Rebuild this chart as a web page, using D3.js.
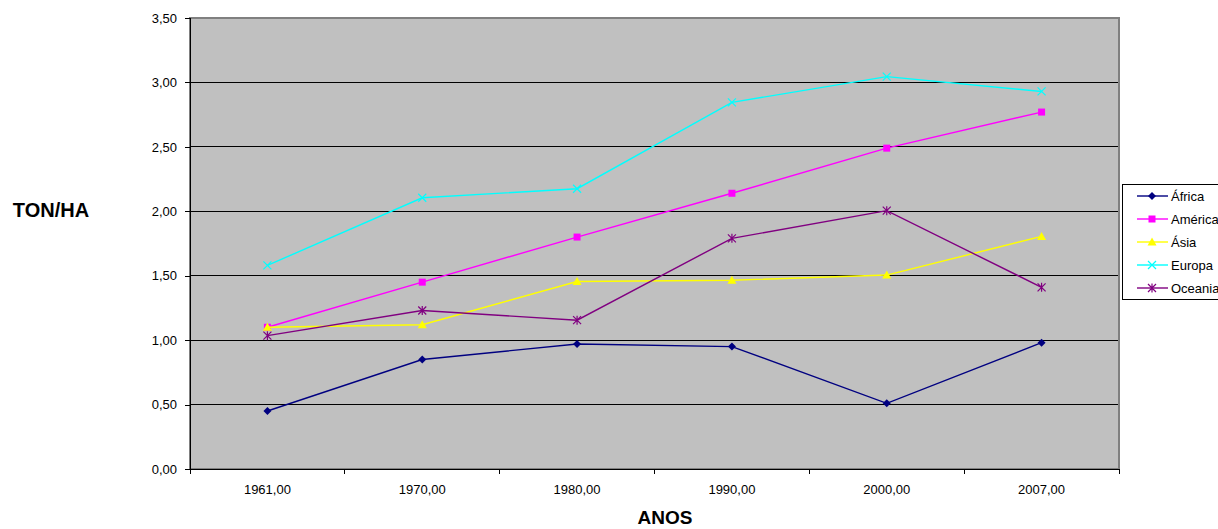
<!DOCTYPE html>
<html><head><meta charset="utf-8">
<script src="https://cdn.jsdelivr.net/npm/d3@7"></script>
<style>body{margin:0;background:#fff}svg{display:block}text{font-family:"Liberation Sans",Arial,sans-serif}</style>
</head><body><svg id="c" width="1218" height="529"></svg>
<script>
const categories = ["1961,00","1970,00","1980,00","1990,00","2000,00","2007,00"];
const africa  = [0.45, 0.85, 0.97, 0.95, 0.51, 0.98];
const america = [1.10, 1.45, 1.80, 2.14, 2.49, 2.77];
const asia    = [1.10, 1.12, 1.455, 1.465, 1.505, 1.805];
const europa  = [1.58, 2.105, 2.175, 2.845, 3.045, 2.93];
const oceania = [1.035, 1.23, 1.155, 1.79, 2.005, 1.41];
const seriesNames = ["África","América","Ásia","Europa","Oceania"];
const yTicks = [0,0.5,1,1.5,2,2.5,3,3.5];
const yTickLabels = ["0,00","0,50","1,00","1,50","2,00","2,50","3,00","3,50"];

const seriesData = [africa, america, asia, europa, oceania];
const colors = ["#000080","#FF00FF","#FFFF00","#00FFFF","#800080"];
const markers = ["diamond","square","triangle","x","star"];

const svg = d3.select("#c");
const L=190, R=1119, T=18, B=469;
const x = d3.scaleBand().domain(categories).range([L,R]);
const y = d3.scaleLinear().domain([0,3.5]).range([B,T]);

svg.append("rect").attr("x",L).attr("y",T).attr("width",R-L).attr("height",B-T).attr("fill","#C0C0C0");
svg.append("g").selectAll("line").data(yTicks.slice(1)).join("line")
  .attr("x1",L).attr("x2",R).attr("y1",d=>y(d)).attr("y2",d=>y(d))
  .attr("stroke","#000").attr("stroke-width",1).attr("shape-rendering","crispEdges");
svg.append("rect").attr("x",L).attr("y",T).attr("width",R-L).attr("height",B-T)
  .attr("fill","none").attr("stroke","#808080").attr("stroke-width",1.5).attr("shape-rendering","crispEdges");

const yAxis = d3.axisLeft(y).tickValues(yTicks).tickSize(5).tickPadding(8)
  .tickFormat((d,i)=>yTickLabels[i]);
const gy = svg.append("g").attr("transform",`translate(${L},0)`).call(yAxis);
gy.select(".domain").attr("stroke","#000").attr("shape-rendering","crispEdges");
gy.selectAll(".tick line").attr("stroke","#000").attr("shape-rendering","crispEdges");
gy.selectAll("text").attr("font-size","13px").attr("fill","#000").style("font-family","'Liberation Sans',Arial,sans-serif");

const gx = svg.append("g").attr("transform",`translate(0,${B})`);
gx.append("line").attr("x1",L).attr("x2",R).attr("y1",0).attr("y2",0).attr("stroke","#000").attr("shape-rendering","crispEdges");
const bounds = categories.map(c=>x(c)).concat([x(categories[categories.length-1])+x.bandwidth()]);
gx.selectAll("line.t").data(bounds).join("line").attr("class","t")
  .attr("x1",d=>d).attr("x2",d=>d).attr("y1",0).attr("y2",5).attr("stroke","#000").attr("shape-rendering","crispEdges");
gx.selectAll("text").data(categories).join("text")
  .attr("x",d=>x(d)+x.bandwidth()/2).attr("y",25).attr("text-anchor","middle")
  .attr("font-size","13px").text(d=>d);

svg.append("text").attr("x",51).attr("y",217).attr("text-anchor","middle")
  .attr("font-size","20px").attr("font-weight","bold").text("TON/HA");
svg.append("text").attr("x",665).attr("y",524).attr("text-anchor","middle")
  .attr("font-size","19px").attr("font-weight","bold").text("ANOS");

function drawMarker(g, type, cx, cy, color){
  if(type==="diamond"){
    g.append("path").attr("d",`M${cx},${cy-4}L${cx+4},${cy}L${cx},${cy+4}L${cx-4},${cy}Z`).attr("fill",color);
  } else if(type==="square"){
    g.append("rect").attr("x",cx-3.5).attr("y",cy-3.5).attr("width",7).attr("height",7).attr("fill",color);
  } else if(type==="triangle"){
    g.append("path").attr("d",`M${cx},${cy-4.5}L${cx+4.5},${cy+3.5}L${cx-4.5},${cy+3.5}Z`).attr("fill",color);
  } else if(type==="x"){
    g.append("path").attr("d",`M${cx-4},${cy-4}L${cx+4},${cy+4}M${cx+4},${cy-4}L${cx-4},${cy+4}`).attr("stroke",color).attr("stroke-width",1.2);
  } else if(type==="star"){
    g.append("path").attr("d",`M${cx-4},${cy-4}L${cx+4},${cy+4}M${cx+4},${cy-4}L${cx-4},${cy+4}M${cx},${cy-4.5}L${cx},${cy+4.5}`).attr("stroke",color).attr("stroke-width",1.2);
  }
}

const line = d3.line().x((d,i)=>x(categories[i])+x.bandwidth()/2).y(d=>y(d));
seriesData.forEach((vals,si)=>{
  const g = svg.append("g");
  g.append("path").attr("d",line(vals)).attr("fill","none").attr("stroke",colors[si]).attr("stroke-width",1.4);
  vals.forEach((v,i)=>drawMarker(g, markers[si], x(categories[i])+x.bandwidth()/2, y(v), colors[si]));
});

const lg = svg.append("g");
lg.append("rect").attr("x",1122.5).attr("y",184.5).attr("width",110).attr("height",115)
  .attr("fill","#fff").attr("stroke","#000").attr("stroke-width",1);
const ly = d3.scalePoint().domain(seriesNames).range([196,288]);
seriesNames.forEach((n,i)=>{
  const yy = ly(n);
  lg.append("line").attr("x1",1137).attr("x2",1168).attr("y1",yy).attr("y2",yy).attr("stroke",colors[i]).attr("stroke-width",1.4);
  drawMarker(lg, markers[i], 1152, yy, colors[i]);
  lg.append("text").attr("x",1171).attr("y",yy+5).attr("font-size","13px").text(n);
});
</script></body></html>
